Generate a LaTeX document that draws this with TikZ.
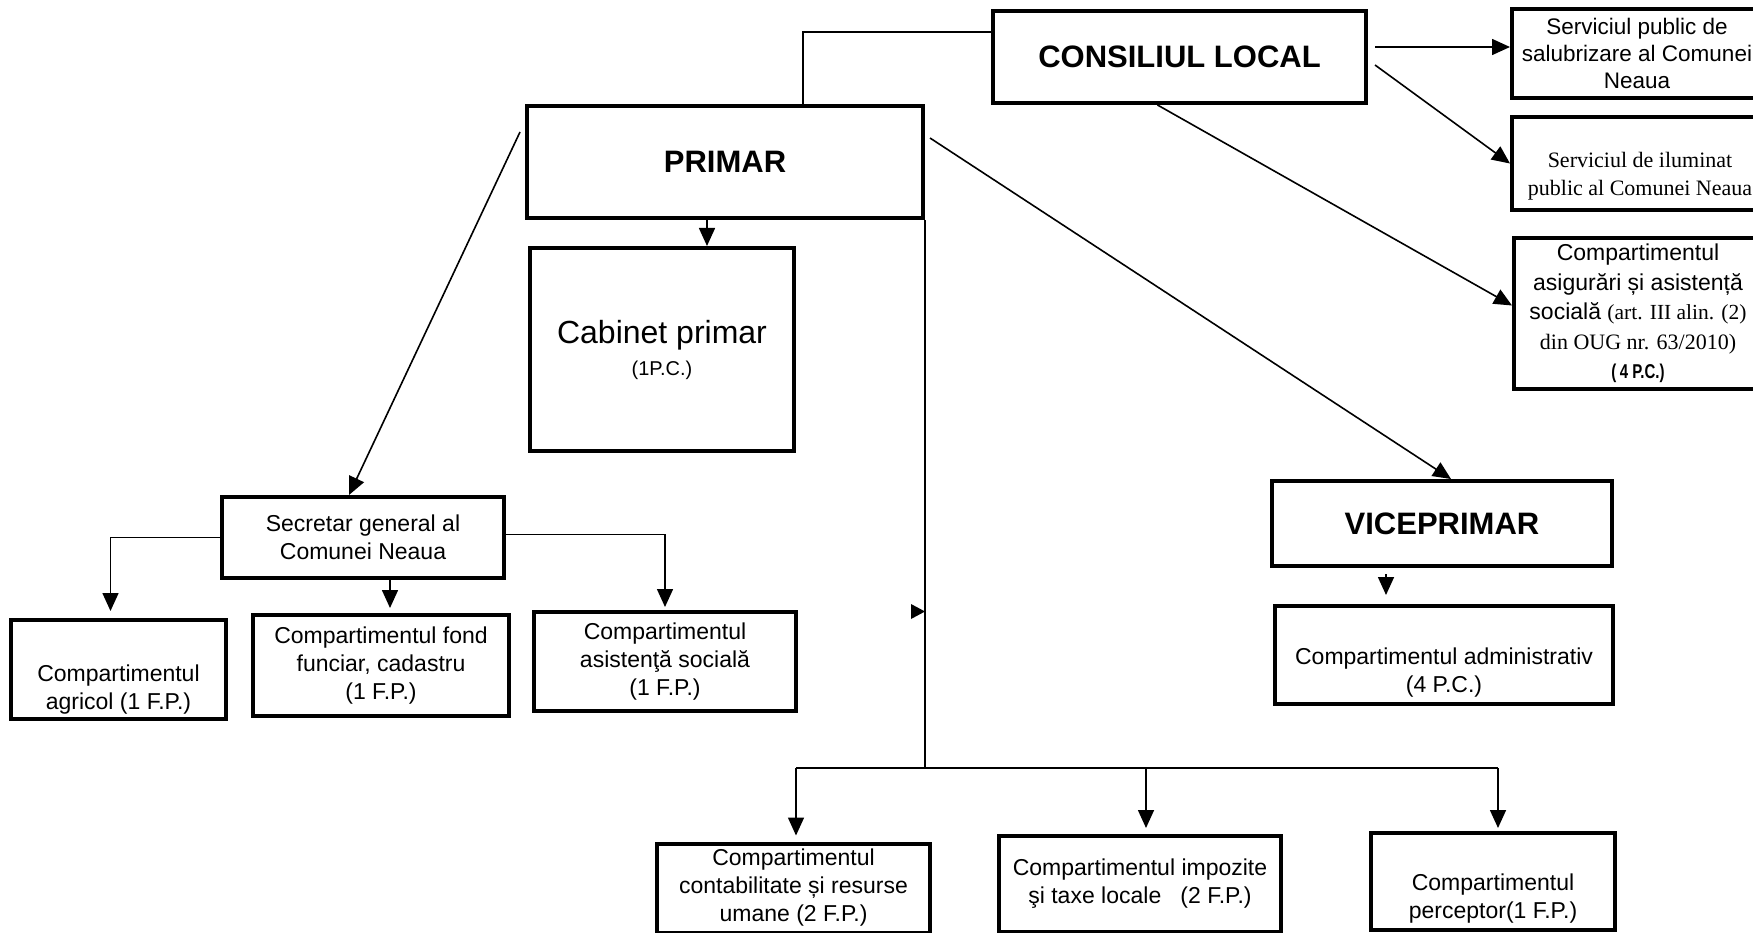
\documentclass[tikz,border=0pt]{standalone}
\usepackage{fontspec}
\setmainfont{Liberation Sans}
\newfontfamily\serifr{Liberation Serif}
\newfontfamily\condb{Liberation Sans}[FakeStretch=0.75]
\usetikzlibrary{arrows.meta,calc}
\begin{document}
\begin{tikzpicture}[x=1pt,y=-1pt,
  box/.style={draw,line width=4pt,inner sep=0pt,align=center,font=\fontsize{23}{28}\selectfont},
  bx/.style 2 args={box,minimum width=#1pt,minimum height=#2pt},
  txt/.style={align=center,font=\fontsize{23}{28}\selectfont,inner sep=0pt},
  big/.style={font=\fontsize{31}{36}\selectfont\bfseries},
  conn/.style={line width=1.6pt},
  arr/.style={conn,-{Triangle[width=16pt,length=18pt]}},
]
\fill[white] (0,0) rectangle (1753,933);
\useasboundingbox (0,0) rectangle (1753,933);

% boxes
\node[bx={373}{92},big] (cl) at (1179.5,57) {CONSILIUL LOCAL};
\node[bx={250}{89},font=\fontsize{22.5}{27}\selectfont] (sal) at (1637,53.5) {Serviciul public de\\salubrizare al Comunei\\Neaua};
\node[bx={250}{93}] (ilu) at (1637,163.5) {};
\node[txt,font=\serifr\fontsize{22}{28}\selectfont] (ilut) at (1640,176) {Serviciul de iluminat\\public al Comunei Neaua};
\node[bx={248}{151},font=\fontsize{23}{29.5}\selectfont] (asig) at (1638,313.5) {Compartimentul\\asigurări și asistență\\socială {\serifr\fontsize{21.5}{29.5}\selectfont (art. III alin. (2)}\\{\serifr\fontsize{22}{29.5}\selectfont din OUG nr. 63/2010)}\\{\condb\bfseries\fontsize{20}{29.5}\selectfont (\,4 P.C.)}};
\node[bx={396}{112},big] (primar) at (725,162) {PRIMAR};
\node[bx={264}{203},font=\fontsize{32}{32}\selectfont] (cab) at (662,349.5) {Cabinet primar\\{\fontsize{20}{24}\selectfont (1P.C.)}};
\node[bx={282}{81}] (sec) at (363,537.5) {Secretar general al\\Comunei Neaua};
\node[bx={215}{99}] (agr) at (118.5,669.5) {};
\node[txt] (agrt) at (118.5,690) {Compartimentul\\agricol (1 F.P.)};
\node[bx={256}{101}] (fond) at (381,665.5) {Compartimentul fond\\funciar, cadastru\\(1 F.P.)};
\node[bx={262}{99}] (asoc) at (665,661.5) {Compartimentul\\asistenţă socială\\(1 F.P.)};
\node[bx={340}{85},big] (vice) at (1442,523.5) {VICEPRIMAR};
\node[bx={338}{98}] (adm) at (1444,655) {};
\node[txt] (admt) at (1444,673) {Compartimentul administrativ\\(4 P.C.)};
\node[bx={273}{89}] (cont) at (793.5,888) {Compartimentul\\contabilitate și resurse\\umane (2 F.P.)};
\node[bx={282}{96}] (imp) at (1140,884) {Compartimentul impozite\\şi taxe locale\ \ \ (2 F.P.)};
\node[bx={244}{97}] (perc) at (1493,881.5) {};
\node[txt] (perct) at (1493,899) {Compartimentul\\perceptor(1 F.P.)};

% connectors from consiliul
\draw[conn] ($(cl.north west)+(0,23)$) -| ($(primar.north west)+(278,0)$);
\coordinate (c1) at ($(cl.east)+(7,-10)$);
\draw[arr] (c1) -- (c1 -| sal.west);
\draw[arr] ($(cl.east)+(7,8)$) -- (ilu.west);
\draw[arr] ($(cl.south)+(-22,0)$) -- ($(asig.west)+(0,-8)$);

% connectors from primar
\coordinate (c2) at ($(primar.south)+(-18,0)$);
\draw[arr] (c2) -- (c2 |- cab.north);
\draw[arr] ($(primar.north west)+(-5,28)$) -- ($(sec.north)+(-14,0)$);
\draw[arr] ($(primar.north east)+(5,34)$) -- ($(vice.north)+(9,0)$);
\coordinate (bus) at (925,768);
\draw[conn] (primar.south east -| bus) -- (bus);
\fill (911,604) -- (925,611.5) -- (911,619) -- cycle;
\coordinate (ta) at ($(cont.north)+(2.5,-6)$);
\coordinate (tb) at ($(imp.north)+(6,-6)$);
\coordinate (tc) at ($(perc.north)+(5,-3)$);
\draw[conn] (ta |- bus) -- (tc |- bus);
\draw[arr] (ta |- bus) -- (ta);
\draw[arr] (tb |- bus) -- (tb);
\draw[arr] (tc |- bus) -- (tc);

% secretar
\coordinate (sa) at ($(agr.north)+(-8,-7)$);
\draw[arr] (sec.west) -| (sa);
\coordinate (sb) at ($(fond.north)+(9,-5)$);
\draw[arr] (sb |- sec.south) -- (sb);
\coordinate (sc) at ($(asoc.north)+(0,-3)$);
\draw[arr] ($(sec.east)+(0,-3)$) -| (sc);

% viceprimar
\coordinate (vb) at ($(vice.south)+(-56,6)$);
\coordinate (va) at ($(adm.north)+(-58,-9)$);
\draw[arr] (vb) -- (vb |- va);
\end{tikzpicture}
\end{document}
